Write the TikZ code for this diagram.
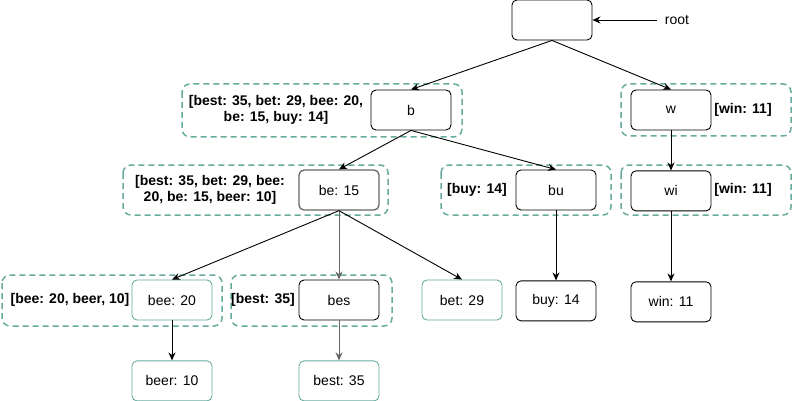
\documentclass[tikz,border=0pt]{standalone}
\usepackage{fontspec}
\setmainfont{Liberation Sans}
\usepackage{tikz}
\usetikzlibrary{positioning,arrows.meta}
\tikzset{nodo/.style={draw, rounded corners=5pt, minimum width=80pt, minimum height=40pt, line width=0.9pt, font=\fontsize{14}{16}\selectfont}}
\tikzset{hoja/.style={nodo, draw=tealgreen}}
\tikzset{grupo/.style={draw=tealgreen, dashed, dash pattern=on 6pt off 4pt, line width=1.5pt, rounded corners=8pt}}
\tikzset{lista/.style={align=center, font=\fontsize{14}{16}\selectfont\bfseries}}
\tikzset{arista/.style={line width=0.9pt, -{Stealth[length=8pt,width=7pt]}}}
\definecolor{tealgreen}{RGB}{103,171,159}
\definecolor{borde}{RGB}{102,102,102}

\begin{document}
\begin{tikzpicture}[x=1pt, y=-1pt]
            \useasboundingbox (0,0) rectangle (792,401);

            % grupos
            \draw[grupo] (182,84)  rectangle (462,137);
            \draw[grupo] (621,84)  rectangle (791,136);
            \draw[grupo] (123,165) rectangle (388,215);
            \draw[grupo] (441,165) rectangle (611,215);
            \draw[grupo] (621,165) rectangle (791,215);
            \draw[grupo] (2,275)   rectangle (222,326);
            \draw[grupo] (231,275) rectangle (392,326);

            \node[nodo] (root) at (552,20) {};
            \node[inner xsep=8pt] (rootlbl) at (677,20) {\fontsize{14}{16}\selectfont root};

            \node[nodo] (b) at (411,110) {b};
            \node[nodo] (w) at (671,110) {w};
            \node[nodo, draw=borde, line width=1.3pt] (be) at (339,190) {be: 15};
            \node[nodo] (bu) at (556,190) {bu};
            \node[nodo, below=40pt of w] (wi) {wi};

            \node[hoja] (bee) at (172,300) {bee: 20};
            \node[nodo] (bes) at (339,300) {bes};
            \node[hoja] (bet) at (462,300) {bet: 29};
            \node[nodo, below=70pt of bu] (buy) {buy: 14};
            \node[nodo, below=70pt of wi] (win) {win: 11};
            \node[hoja, below=40pt of bee] (beer) {beer: 10};
            \node[hoja, below=40pt of bes] (best) {best: 35};

            \node[lista] (lb)   at (276,110) {[best: 35, bet: 29, bee: 20,\\be: 15, buy: 14]};
            \node[lista] (lw)   at (743,110) {[win: 11]};
            \node[lista] (lbe)  at (210,190) {[best: 35, bet: 29, bee:\\20, be: 15, beer: 10]};
            \node[lista] (lbu)  at (477,190) {[buy: 14]};
            \node[lista] (lwi)  at (743,190) {[win: 11]};
            \node[lista] (lbee) at (70,300)  {[bee: 20, beer, 10]};
            \node[lista] (lbes) at (263,300) {[best: 35]};

            \draw[arista] (rootlbl) -- (root);
            \draw[arista] (root.south) -- (b.north);
            \draw[arista] (root.south) -- (w.north);
            \draw[arista] (b.south) -- (be.north);
            \draw[arista] (b.south) -- (bu.north);
            \draw[arista] (w) -- (wi);
            \draw[arista] (be.south) -- (bee.north);
            \draw[arista, color=borde] (be) -- (bes);
            \draw[arista] (be.south) -- (bet.north);
            \draw[arista] (bu) -- (buy);
            \draw[arista] (wi) -- (win);
            \draw[arista] (bee) -- (beer);
            \draw[arista, color=borde] (bes) -- (best);
        \end{tikzpicture}
\end{document}
